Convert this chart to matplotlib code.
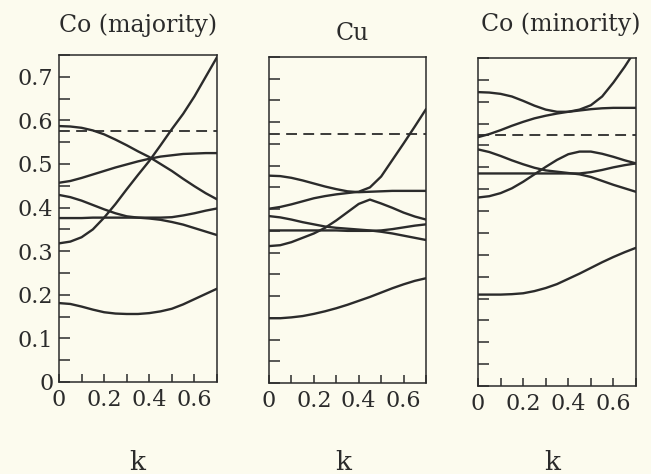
import matplotlib
matplotlib.use("Agg")
import matplotlib.pyplot as plt
from matplotlib.ticker import MultipleLocator, FixedLocator, FormatStrFormatter

# ---------------- data ----------------
k = [0.0, 0.05, 0.10, 0.15, 0.20, 0.25, 0.30, 0.35, 0.40, 0.45, 0.50, 0.55, 0.60, 0.65, 0.70]

titles = ["Co (majority)", "Cu", "Co (minority)"]
fermi = [0.575, 0.574, 0.573]

co_maj = [
    [0.587, 0.586, 0.583, 0.577, 0.568, 0.556, 0.543, 0.529, 0.516, 0.500, 0.484, 0.466, 0.449, 0.433, 0.419],
    [0.457, 0.461, 0.468, 0.476, 0.484, 0.492, 0.499, 0.506, 0.512, 0.517, 0.520, 0.523, 0.524, 0.525, 0.525],
    [0.318, 0.322, 0.332, 0.350, 0.377, 0.408, 0.442, 0.475, 0.507, 0.543, 0.580, 0.615, 0.655, 0.700, 0.745],
    [0.429, 0.424, 0.416, 0.406, 0.396, 0.387, 0.380, 0.377, 0.375, 0.372, 0.367, 0.361, 0.353, 0.345, 0.337],
    [0.376, 0.376, 0.376, 0.377, 0.377, 0.377, 0.377, 0.377, 0.377, 0.377, 0.378, 0.382, 0.387, 0.393, 0.398],
    [0.181, 0.179, 0.173, 0.166, 0.160, 0.157, 0.156, 0.156, 0.158, 0.162, 0.168, 0.178, 0.190, 0.202, 0.214],
]

cu = [
    [0.477, 0.476, 0.472, 0.466, 0.459, 0.452, 0.446, 0.441, 0.439, 0.440, 0.441, 0.442, 0.442, 0.442, 0.442],
    [0.401, 0.405, 0.411, 0.418, 0.425, 0.430, 0.434, 0.437, 0.440, 0.450, 0.475, 0.513, 0.551, 0.590, 0.630],
    [0.315, 0.317, 0.324, 0.334, 0.344, 0.357, 0.374, 0.393, 0.412, 0.422, 0.413, 0.403, 0.392, 0.383, 0.376],
    [0.384, 0.381, 0.376, 0.370, 0.365, 0.360, 0.357, 0.355, 0.353, 0.351, 0.348, 0.344, 0.339, 0.334, 0.329],
    [0.351, 0.351, 0.351, 0.351, 0.351, 0.351, 0.351, 0.350, 0.350, 0.350, 0.351, 0.354, 0.358, 0.362, 0.365],
    [0.149, 0.149, 0.151, 0.154, 0.159, 0.165, 0.172, 0.180, 0.189, 0.198, 0.208, 0.218, 0.227, 0.235, 0.241],
]

co_min = [
    [0.672, 0.671, 0.668, 0.662, 0.652, 0.641, 0.632, 0.627, 0.627, 0.632, 0.642, 0.662, 0.694, 0.730, 0.770],
    [0.569, 0.576, 0.585, 0.595, 0.604, 0.612, 0.618, 0.623, 0.627, 0.630, 0.633, 0.635, 0.636, 0.636, 0.636],
    [0.541, 0.535, 0.526, 0.516, 0.507, 0.499, 0.493, 0.490, 0.487, 0.484, 0.478, 0.469, 0.460, 0.452, 0.444],
    [0.486, 0.486, 0.486, 0.486, 0.486, 0.486, 0.486, 0.486, 0.486, 0.486, 0.489, 0.494, 0.500, 0.505, 0.509],
    [0.431, 0.434, 0.441, 0.452, 0.467, 0.484, 0.501, 0.517, 0.530, 0.536, 0.536, 0.531, 0.524, 0.516, 0.509],
    [0.209, 0.209, 0.209, 0.210, 0.212, 0.217, 0.224, 0.233, 0.245, 0.257, 0.270, 0.283, 0.295, 0.306, 0.316],
]

panels = [co_maj, cu, co_min]
yticks_labeled = [0, 0.1, 0.2, 0.3, 0.4, 0.5, 0.6, 0.7]
xticks_labeled = [0, 0.2, 0.4, 0.6]

# ---------------- layout ----------------
W, H = 651, 474
bg = "#fcfbee"
ink = "#2b2b2b"
plt.rcParams["font.family"] = ["DejaVu Serif"]

fig = plt.figure(figsize=(W / 100, H / 100), dpi=100, facecolor=bg)

boxes = [(59, 217, 55, 382), (269, 426, 57, 383), (478, 636, 58, 386)]
title_pos = [(138, 25), (352, 33), (561, 24)]
k_pos = [(137, 462), (343, 462), (552, 462)]

for i, (bands, (l, r, t, b)) in enumerate(zip(panels, boxes)):
    ax = fig.add_axes([l / W, 1 - b / H, (r - l) / W, (b - t) / H])
    ax.set_facecolor("none")
    for band in bands:
        ax.plot(k, band, color=ink, lw=1.7, solid_capstyle="round", clip_on=True)
    ax.axhline(fermi[i], color=ink, lw=1.3, linestyle=(0, (6, 3.5)))
    ax.set_xlim(0, 0.7)
    ax.set_ylim(0, 0.75)
    for s in ax.spines.values():
        s.set_color(ink)
        s.set_linewidth(1.1)
    ax.yaxis.set_major_locator(FixedLocator(yticks_labeled))
    ax.yaxis.set_minor_locator(MultipleLocator(0.05))
    ax.xaxis.set_major_locator(FixedLocator(xticks_labeled))
    ax.xaxis.set_minor_locator(MultipleLocator(0.1))
    ax.yaxis.set_major_formatter(FormatStrFormatter("%g"))
    ax.xaxis.set_major_formatter(FormatStrFormatter("%g"))
    ax.tick_params(axis="y", which="both", direction="in", length=8, width=1.1,
                   color=ink, right=False, labelsize=16, labelcolor=ink, pad=4)
    ax.tick_params(axis="x", which="both", direction="in", length=6, width=1.1,
                   color=ink, top=False, labelsize=16, labelcolor=ink, pad=5)
    if i > 0:
        ax.tick_params(axis="y", labelleft=False)
    fig.text(title_pos[i][0] / W, 1 - title_pos[i][1] / H, titles[i],
             ha="center", va="center", fontsize=17, color=ink)
    fig.text(k_pos[i][0] / W, 1 - k_pos[i][1] / H, "k",
             ha="center", va="center", fontsize=19, color=ink)

fig.savefig("out.png", dpi=100, facecolor=bg)
